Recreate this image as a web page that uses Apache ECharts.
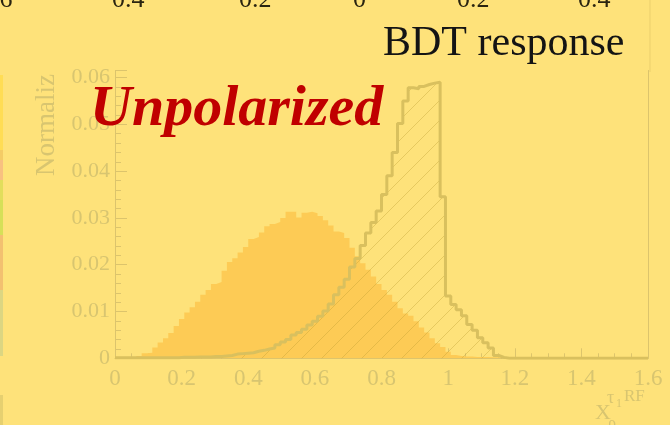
<!DOCTYPE html>
<html>
<head>
<meta charset="utf-8">
<script src="https://cdn.jsdelivr.net/npm/echarts@6/dist/echarts.min.js"></script>
<style>
html,body{margin:0;padding:0;background:#FEE27A;}
#chart{width:670px;height:425px;}
</style>
</head>
<body>
<div id="chart"></div>
<script>
// ---- data ----
const binWidth = 0.016;
const xTicks = ['0','0.2','0.4','0.6','0.8','1','1.2','1.4','1.6'];
const yTicks = ['0','0.01','0.02','0.03','0.04','0.05','0.06'];
// filled (unpolarized, solid orange) histogram
const filledValues = [
  0,0,0,0,0.0005,0.0011,0.0012,0.0023,0.0034,0.0043,
  0.0054,0.0069,0.0084,0.0098,0.0109,0.0121,0.0136,0.0146,0.0159,0.0163,
  0.0187,0.0206,0.0214,0.0226,0.0238,0.0255,0.0259,0.0269,0.0282,0.0287,
  0.0291,0.0300,0.0313,0.0313,0.0301,0.0311,0.0313,0.0310,0.0304,0.0295,
  0.0284,0.0271,0.0268,0.0257,0.0236,0.0218,0.0203,0.0189,0.0175,0.0159,
  0.0146,0.0136,0.0121,0.0107,0.0096,0.0091,0.0079,0.0066,0.0055,0.0043,
  0.0032,0.0024,0.0014,0.0007,0.0005,0.0004,0.0004,0.0003,0.0003,0.0003,
  0.0002,0.0002,0.0001,0,0,0,0,0,0,0,
  0,0,0,0,0,0,0,0,0,0,
  0,0,0,0,0,0,0,0,0,0
];
// hatched (outline) histogram
const hatchedValues = [
  0.0001,0.0001,0.0001,0.0001,0.0001,0.0001,0.0001,0.0001,0.0001,0.0001,
  0.0001,0.0001,0.0002,0.0002,0.0002,0.0003,0.0003,0.0003,0.0004,0.0004,
  0.0005,0.0006,0.0009,0.0010,0.0011,0.0012,0.0015,0.0017,0.0020,0.0022,
  0.0029,0.0035,0.0040,0.0050,0.0055,0.0062,0.0071,0.0079,0.0090,0.0101,
  0.0116,0.0136,0.0152,0.0169,0.0195,0.0213,0.0241,0.0268,0.0290,0.0315,
  0.0350,0.0390,0.0440,0.0502,0.0550,0.0578,0.0576,0.0581,0.0585,0.0588,
  0.0590,0.0345,0.0133,0.0115,0.0104,0.0091,0.0072,0.0060,0.0044,0.0033,
  0.0022,0.0006,0.0002,0,0,0,0,0,0,0,
  0,0,0,0,0,0,0,0,0,0,
  0,0,0,0,0,0,0,0,0,0
];
const topCutLabels = ['0.6','0.4','0.2','0','0.2','0.4'];

function toSteps(vals){
  const pts = vals.map((v,i)=>[i*binWidth, v]);
  pts.push([vals.length*binWidth, vals[vals.length-1]]);
  return pts;
}

// hatch pattern
const T = 20;
const pat = document.createElement('canvas');
pat.width = T; pat.height = T;
const pc = pat.getContext('2d');
pc.strokeStyle = 'rgba(185,155,45,0.35)';
pc.lineWidth = 1;
pc.beginPath();
pc.moveTo(0,T); pc.lineTo(T,0);
pc.moveTo(-2,2); pc.lineTo(2,-2);
pc.moveTo(T-2,T+2); pc.lineTo(T+2,T-2);
pc.stroke();

const axisColor = '#DCC46C';
const labelColor = '#D8C570';
const serif = "'Liberation Serif','DejaVu Serif',serif";

const chart = echarts.init(document.getElementById('chart'), null, {renderer:'canvas'});
const topLabelX = [-20,112,239,353,457,578];
const stripRects = [
  [75,150,'#FFDD55'],[150,160,'#F4CC66'],[160,180,'#F8C080'],[180,200,'#E2DE5C'],
  [200,235,'#D6E058'],[235,290,'#F3C070'],[290,356,'#DCD682'],[395,425,'#E6D070']
];
function txt(x,y,text,font,fill,align,vAlign,extra){
  return Object.assign({type:'text', x:x, y:y, style:{text:text, font:font, fill:fill, align:align||'left', verticalAlign:vAlign||'middle'}, z:5}, extra||{});
}
const graphics = [];
stripRects.forEach(r=>{
  graphics.push({type:'rect', shape:{x:0,y:r[0],width:3,height:r[1]-r[0]}, style:{fill:r[2]}, z:1});
});
topCutLabels.forEach((t,i)=>{
  graphics.push(txt(topLabelX[i], 13, t, "26px "+serif, '#2a2410', 'left', 'bottom'));
});
graphics.push({type:'line', shape:{x1:650,y1:0,x2:650,y2:72}, style:{stroke:'#EBCF6C', lineWidth:1}, z:1});
graphics.push(txt(383, 44, 'BDT response', "42px "+serif, '#141414', 'left', 'middle', {z:10}));
graphics.push(txt(47, 74, 'Normaliz', "27px "+serif, labelColor, 'right', 'middle', {rotation:Math.PI/2}));
graphics.push(txt(90, 110, 'Unpolarized', "italic bold 58px "+serif, '#C00000', 'left', 'middle', {z:20}));
// x-axis title  X_rho^{tau1 RF}
graphics.push(txt(595, 413, 'X', "22px "+serif, labelColor));
graphics.push(txt(608, 424, 'ρ', "16px "+serif, labelColor));
graphics.push(txt(607, 398, 'τ', "18px "+serif, labelColor));
graphics.push(txt(616, 404, '1', "12px "+serif, labelColor));
graphics.push(txt(624, 397, 'RF', "17px "+serif, labelColor));

chart.setOption({
  backgroundColor:'#FEE27A',
  animation:false,
  grid:{left:115, right:22, top:70.5, bottom:66.7, containLabel:false},
  xAxis:{
    type:'value', min:0, max:1.6, interval:0.2,
    axisLine:{show:true, lineStyle:{color:axisColor, width:1}},
    axisTick:{show:true, inside:true, length:10, lineStyle:{color:axisColor}},
    minorTick:{show:true, splitNumber:4, length:5, lineStyle:{color:axisColor}},
    splitLine:{show:false},
    axisLabel:{color:labelColor, fontFamily:serif, fontSize:23, margin:9,
      formatter:(v)=>{const i=Math.round(v/0.2); return xTicks[i]!==undefined?xTicks[i]:'';}}
  },
  yAxis:[{
    type:'value', min:0, max:0.0615, interval:0.01,
    axisLine:{show:true, lineStyle:{color:axisColor, width:1}},
    axisTick:{show:true, inside:true, length:12, lineStyle:{color:axisColor}},
    minorTick:{show:true, splitNumber:5, length:6, lineStyle:{color:axisColor}},
    splitLine:{show:false},
    axisLabel:{color:labelColor, fontFamily:serif, fontSize:22, margin:5, showMaxLabel:false,
      formatter:(v)=>{const i=Math.round(v/0.01); return yTicks[i]!==undefined?yTicks[i]:'';}}
  },{
    type:'value', min:0, max:0.0615, position:'right',
    axisLine:{show:true, lineStyle:{color:axisColor, width:1}},
    axisTick:{show:false}, axisLabel:{show:false}, splitLine:{show:false}
  }],
  series:[{
    type:'line', step:'end', data:toSteps(filledValues), symbol:'none',
    lineStyle:{width:0, color:'#FDCB55'},
    areaStyle:{color:'#FDCB55', opacity:1}, z:2
  },{
    type:'line', step:'end', data:toSteps(hatchedValues), symbol:'none',
    lineStyle:{width:3, color:'#D9C05E'},
    areaStyle:{color:{image:pat, repeat:'repeat'}, opacity:1}, z:3
  }],
  graphic:graphics
});
</script>
</body>
</html>
